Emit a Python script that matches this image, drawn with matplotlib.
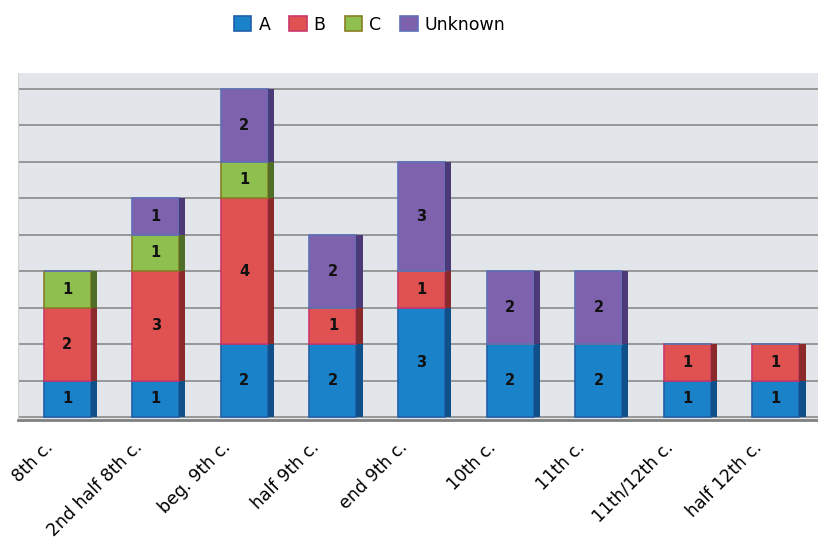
import matplotlib.pyplot as plt
import matplotlib.transforms as mtransforms
import numpy as np

categories = ["8th c.", "2nd half 8th c.", "beg. 9th c.", "half 9th c.", "end 9th c.",
              "10th c.", "11th c.", "11th/12th c.", "half 12th c."]
series_names = ["A", "B", "C", "Unknown"]
a_vals = [1, 1, 2, 2, 3, 2, 2, 1, 1]
b_vals = [2, 3, 4, 1, 1, 0, 0, 1, 1]
c_vals = [1, 1, 1, 0, 0, 0, 0, 0, 0]
unk_vals = [0, 1, 2, 2, 3, 2, 2, 0, 0]

face = ["#1a82c8", "#e05252", "#8fc04f", "#7e62ad"]
edge = ["#2060a8", "#c8386a", "#8a7d22", "#5e70b8"]
side = ["#10508a", "#8a2a2a", "#4f6e28", "#4c3a78"]

fig = plt.figure(figsize=(8.18, 5.39), dpi=100)
ax = fig.add_axes([0.022, 0.221, 0.978, 0.644])
ax.set_facecolor("#e2e5e9")

x = np.arange(len(categories))
w = 0.53
sw = 0.07
bottom = np.zeros(len(categories))
for vals, name, fc, ec, sc in zip([a_vals, b_vals, c_vals, unk_vals], series_names, face, edge, side):
    vals = np.array(vals)
    ax.bar(x - sw / 2, vals, w, bottom=bottom, color=fc, edgecolor=ec, linewidth=1.2,
           label=name, zorder=3)
    ax.bar(x + w / 2, vals, sw, bottom=bottom, color=sc, linewidth=0, zorder=3)
    for xi, v, b in zip(x, vals, bottom):
        if v > 0:
            ax.text(xi - sw / 2, b + v / 2, str(v), ha="center", va="center",
                    fontsize=10.5, fontweight="bold", color="#111111", zorder=4)
    bottom = bottom + vals

ax.set_xlim(-0.59, 8.44)
ax.set_ylim(-0.08, 9.44)
ax.set_yticks(range(0, 10))
ax.yaxis.grid(True, color="#8a8a8a", linewidth=1.2, zorder=1)
ax.tick_params(axis="y", length=0, labelleft=False)
ax.tick_params(axis="x", length=0, pad=6)
ax.set_xticks(x)
ax.set_xticklabels(categories, rotation=45, ha="right", va="top",
                   rotation_mode="anchor", fontsize=12.5)
shift = mtransforms.ScaledTranslation(-26 / 100, -10 / 100, fig.dpi_scale_trans)
for lab in ax.get_xticklabels():
    lab.set_transform(lab.get_transform() + shift)
for s in ["top", "right"]:
    ax.spines[s].set_visible(False)
ax.spines["left"].set_color("#d0d3d6")
ax.spines["bottom"].set_color("#808080")
ax.spines["bottom"].set_linewidth(2)

handles, labels = ax.get_legend_handles_labels()
fig.legend(handles, labels, loc="upper center", bbox_to_anchor=(0.452, 1.0), ncol=4,
           frameon=False, fontsize=12.5, handlelength=1.0, handleheight=1.0,
           handletextpad=0.4, columnspacing=1.1)

fig.savefig("out.png", dpi=100)
